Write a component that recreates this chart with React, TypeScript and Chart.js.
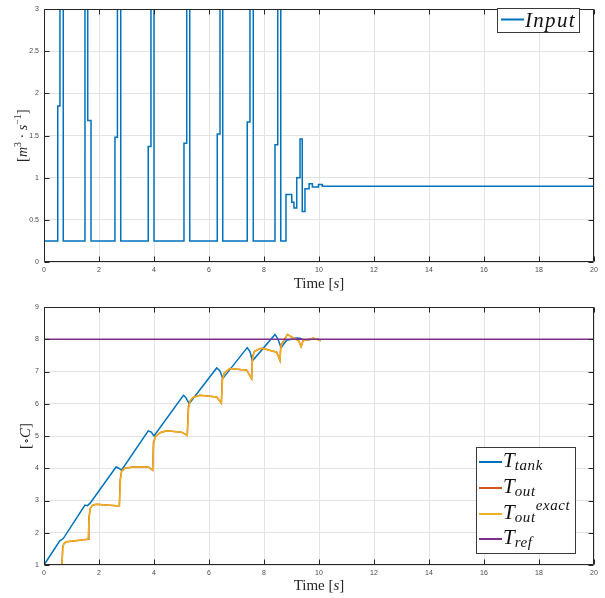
import React, { useEffect, useRef } from 'react';
import { Chart, registerables } from 'chart.js';

Chart.register(...registerables);

// ---------- data ----------
const xTicks = [0, 2, 4, 6, 8, 10, 12, 14, 16, 18, 20];
const inputYTicks = [0, 0.5, 1, 1.5, 2, 2.5, 3];
const tempYTicks = [1, 2, 3, 4, 5, 6, 7, 8, 9];

const inputTimes = [0, 0.50, 0.58, 0.70, 1.49, 1.59, 1.71, 2.58, 2.67, 2.79, 3.79, 3.89, 4.00, 5.09, 5.19, 5.30, 6.30, 6.40, 6.50, 7.39, 7.49, 7.61, 8.40, 8.50, 8.61, 8.80, 9.01, 9.09, 9.19, 9.31, 9.39, 9.49, 9.64, 9.76, 9.98, 10.12, 20];
const inputValues = [0.25, 1.85, 3, 0.25, 3, 1.68, 0.25, 1.48, 3, 0.25, 1.37, 3, 0.25, 1.41, 3, 0.25, 1.52, 3, 0.25, 1.66, 3, 0.25, 1.39, 3, 0.25, 0.80, 0.71, 0.64, 1.00, 1.46, 0.60, 0.87, 0.93, 0.89, 0.92, 0.90, 0.90];

const tankTimes = [0, 0.58, 0.70, 1.49, 1.58, 1.67, 2.62, 2.72, 2.82, 3.79, 3.90, 4.00, 5.07, 5.15, 5.28, 6.28, 6.40, 6.50, 7.39, 7.49, 7.58, 8.40, 8.50, 8.62, 8.82, 9.00, 9.16, 9.30, 9.45, 9.70, 10.0];
const tankValues = [1.00, 1.76, 1.82, 2.86, 2.84, 2.91, 4.04, 4.00, 3.94, 5.16, 5.12, 5.00, 6.26, 6.20, 6.00, 7.11, 7.02, 6.78, 7.74, 7.62, 7.33, 8.15, 8.02, 7.74, 7.97, 8.00, 8.04, 8.03, 7.97, 8.00, 8.00];

const outTimes = [0, 0.65, 0.68, 0.72, 0.82, 1.31, 1.60, 1.63, 1.68, 1.76, 1.90, 2.62, 2.74, 2.77, 2.82, 2.94, 3.25, 3.79, 3.95, 3.98, 4.05, 4.22, 4.46, 5.00, 5.21, 5.25, 5.32, 5.43, 5.67, 6.28, 6.45, 6.48, 6.55, 6.76, 7.37, 7.55, 7.58, 7.65, 7.85, 7.97, 8.46, 8.58, 8.61, 8.70, 8.85, 9.07, 9.25, 9.35, 9.43, 9.67, 9.79, 9.97, 10.06];
const outValues = [1.00, 1.00, 1.55, 1.66, 1.72, 1.77, 1.80, 2.45, 2.75, 2.85, 2.88, 2.84, 2.84, 3.65, 3.90, 4.00, 4.04, 4.04, 3.94, 4.80, 4.98, 5.10, 5.16, 5.12, 5.02, 5.90, 6.10, 6.20, 6.26, 6.21, 6.02, 6.75, 6.95, 7.09, 7.04, 6.78, 7.45, 7.62, 7.71, 7.71, 7.60, 7.34, 7.82, 7.93, 8.15, 8.04, 7.97, 7.77, 7.97, 7.99, 8.04, 7.99, 7.95];

const exactTimes = [0, 0.65, 0.69, 0.72, 0.82, 1.31, 1.60, 1.64, 1.68, 1.76, 1.90, 2.62, 2.74, 2.78, 2.82, 2.94, 3.25, 3.79, 3.95, 3.99, 4.05, 4.22, 4.46, 5.00, 5.21, 5.26, 5.32, 5.43, 5.67, 6.28, 6.45, 6.49, 6.55, 6.76, 7.37, 7.55, 7.59, 7.65, 7.85, 7.97, 8.46, 8.58, 8.62, 8.70, 8.85, 9.07, 9.25, 9.35, 9.43, 9.67, 9.79, 9.97, 10.06];
const exactValues = [1.00, 1.00, 1.52, 1.66, 1.72, 1.77, 1.80, 2.42, 2.75, 2.85, 2.88, 2.84, 2.84, 3.62, 3.90, 4.00, 4.04, 4.04, 3.94, 4.76, 4.98, 5.10, 5.16, 5.12, 5.02, 5.86, 6.10, 6.20, 6.26, 6.21, 6.02, 6.72, 6.95, 7.09, 7.04, 6.78, 7.42, 7.62, 7.71, 7.71, 7.60, 7.34, 7.80, 7.93, 8.15, 8.04, 7.97, 7.77, 7.97, 7.99, 8.04, 7.99, 7.95];

const refTimes = [0, 20];
const refValues = [8, 8];

// ---------- styles ----------
const BLUE = '#0072BD';
const RED = '#D95319';
const YELLOW = '#EDB120';
const PURPLE = '#7E2F8E';
const AXIS = '#262626';
const GRID = '#e3e3e3';
const TICK_TXT = '#4a4a4a';
const SERIF = '"Liberation Serif", "Times New Roman", serif';
const SANS = '"Liberation Sans", Arial, Helvetica, sans-serif';

type Seg = { t: string; it?: boolean; size: number; dy?: number; ls?: number };

function setLS(ctx: any, px: number) {
  if ('letterSpacing' in ctx) ctx.letterSpacing = px + 'px';
}
function segFont(s: Seg) {
  return `${s.it ? 'italic ' : ''}${s.size}px ${SERIF}`;
}
function drawSegs(ctx: CanvasRenderingContext2D, segs: Seg[], x: number, y: number, align: 'left' | 'center') {
  ctx.textAlign = 'left';
  ctx.textBaseline = 'alphabetic';
  let total = 0;
  const widths = segs.map((s) => {
    ctx.font = segFont(s);
    setLS(ctx, s.ls || 0);
    const w = ctx.measureText(s.t).width;
    total += w;
    return w;
  });
  let cx = align === 'center' ? x - total / 2 : x;
  segs.forEach((s, i) => {
    ctx.font = segFont(s);
    setLS(ctx, s.ls || 0);
    ctx.fillText(s.t, cx, y + (s.dy || 0));
    cx += widths[i];
  });
  setLS(ctx, 0);
}

function toPoints(ts: number[], vs: number[]) {
  return ts.map((t, i) => ({ x: t, y: vs[i] }));
}

type LegendEntry = { color: string; segs: Seg[] };
type LegendSpec = { x: number; y: number; w: number; h: number; lineX0: number; lineX1: number; textX: number; rows: number[]; entries: LegendEntry[]; baseOff: number };

function decorPlugin(o: { yTicks: number[]; xTitleBase: number; yTitleX: number; yTitle: Seg[]; legend: LegendSpec }) {
  return {
    id: 'decor',
    afterDatasetsDraw(chart: any) {
      const { ctx, chartArea: a, scales } = chart;
      ctx.save();
      const L = Math.round(a.left) + 0.5;
      const R = Math.round(a.right) - 0.5;
      const T = Math.round(a.top) + 0.5;
      const B = Math.round(a.bottom) - 0.5;
      ctx.strokeStyle = AXIS;
      ctx.lineWidth = 1;
      ctx.beginPath();
      ctx.rect(L, T, R - L, B - T);
      for (const v of xTicks) {
        const px = Math.round(scales.x.getPixelForValue(v)) + 0.5;
        ctx.moveTo(px, B);
        ctx.lineTo(px, B - 5);
        ctx.moveTo(px, T);
        ctx.lineTo(px, T + 5);
      }
      for (const v of o.yTicks) {
        const py = Math.round(scales.y.getPixelForValue(v)) + 0.5;
        ctx.moveTo(L, py);
        ctx.lineTo(L + 5, py);
        ctx.moveTo(R, py);
        ctx.lineTo(R - 5, py);
      }
      ctx.stroke();

      // x title
      ctx.fillStyle = AXIS;
      drawSegs(ctx, [
        { t: 'Time [', size: 15 },
        { t: 's', it: true, size: 15 },
        { t: ']', size: 15 },
      ], (a.left + a.right) / 2, o.xTitleBase, 'center');

      // y title (rotated)
      ctx.save();
      ctx.translate(o.yTitleX, (a.top + a.bottom) / 2);
      ctx.rotate(-Math.PI / 2);
      drawSegs(ctx, o.yTitle, 0, 0, 'center');
      ctx.restore();

      // legend
      const lg = o.legend;
      ctx.fillStyle = '#ffffff';
      ctx.fillRect(lg.x, lg.y, lg.w, lg.h);
      ctx.strokeStyle = '#3a3a3a';
      ctx.lineWidth = 1;
      ctx.strokeRect(lg.x + 0.5, lg.y + 0.5, lg.w - 1, lg.h - 1);
      lg.entries.forEach((e, i) => {
        const ry = lg.rows[i];
        ctx.strokeStyle = e.color;
        ctx.lineWidth = 2;
        ctx.beginPath();
        ctx.moveTo(lg.lineX0, ry);
        ctx.lineTo(lg.lineX1, ry);
        ctx.stroke();
        ctx.fillStyle = '#111111';
        drawSegs(ctx, e.segs, lg.textX, ry + lg.baseOff, 'left');
      });
      ctx.restore();
    },
  };
}

const plainLabel = (v: any) => String(Number(v));

function xScale(height: number, pad: number) {
  return {
    type: 'linear' as const,
    min: 0,
    max: 20,
    afterBuildTicks: (s: any) => {
      s.ticks = xTicks.map((v) => ({ value: v }));
    },
    afterFit: (s: any) => {
      s.height = height;
    },
    ticks: {
      font: { size: 7, family: SANS },
      color: TICK_TXT,
      padding: pad,
      maxRotation: 0,
      autoSkip: false,
      callback: plainLabel,
    },
    grid: { color: GRID, lineWidth: 1, drawTicks: false },
    border: { display: false },
  };
}

function yScale(min: number, max: number, ticks: number[]) {
  return {
    type: 'linear' as const,
    min,
    max,
    afterBuildTicks: (s: any) => {
      s.ticks = ticks.map((v) => ({ value: v }));
    },
    afterFit: (s: any) => {
      s.width = 44;
    },
    ticks: {
      font: { size: 7, family: SANS },
      color: TICK_TXT,
      padding: 5,
      autoSkip: false,
      callback: plainLabel,
    },
    grid: { color: GRID, lineWidth: 1, drawTicks: false },
    border: { display: false },
  };
}

export default function App() {
  const topRef = useRef<HTMLCanvasElement>(null);
  const botRef = useRef<HTMLCanvasElement>(null);

  useEffect(() => {
    const topChart = new Chart(topRef.current as HTMLCanvasElement, {
      type: 'line',
      data: {
        datasets: [
          {
            label: 'Input',
            data: toPoints(inputTimes, inputValues),
            stepped: 'before',
            borderColor: BLUE,
            backgroundColor: BLUE,
            borderWidth: 1.5,
            pointRadius: 0,
            fill: false,
          },
        ],
      },
      options: {
        responsive: false,
        animation: false,
        devicePixelRatio: 1,
        layout: { padding: { top: 4, right: 11, left: 0, bottom: 0 } },
        scales: { x: xScale(38, 4), y: yScale(0, 3, inputYTicks) } as any,
        plugins: { legend: { display: false }, tooltip: { enabled: false } },
        elements: { line: { tension: 0 } },
      },
      plugins: [
        decorPlugin({
          yTicks: inputYTicks,
          xTitleBase: 288,
          yTitleX: 27,
          yTitle: [
            { t: '[', size: 15 },
            { t: 'm', it: true, size: 14 },
            { t: '3', size: 10, dy: -6 },
            { t: ' · ', size: 14 },
            { t: 's', it: true, size: 14 },
            { t: '−1', size: 10, dy: -6 },
            { t: ']', size: 15 },
          ],
          legend: {
            x: 497, y: 8, w: 83, h: 25,
            lineX0: 501, lineX1: 524, textX: 525,
            rows: [19.5], baseOff: 7,
            entries: [{ color: BLUE, segs: [{ t: 'Input', it: true, size: 21, ls: 1.3 }] }],
          },
        }) as any,
      ],
    });

    const botChart = new Chart(botRef.current as HTMLCanvasElement, {
      type: 'line',
      data: {
        datasets: [
          { label: 'T_tank', data: toPoints(tankTimes, tankValues), borderColor: BLUE, backgroundColor: BLUE, borderWidth: 1.5, pointRadius: 0, fill: false, order: 4 },
          { label: 'T_out', data: toPoints(outTimes, outValues), borderColor: RED, backgroundColor: RED, borderWidth: 1.5, pointRadius: 0, fill: false, order: 3 },
          { label: 'T_out^exact', data: toPoints(exactTimes, exactValues), borderColor: YELLOW, backgroundColor: YELLOW, borderWidth: 1.5, pointRadius: 0, fill: false, order: 2 },
          { label: 'T_ref', data: toPoints(refTimes, refValues), borderColor: PURPLE, backgroundColor: PURPLE, borderWidth: 1.5, pointRadius: 0, fill: false, order: 1 },
        ],
      },
      options: {
        responsive: false,
        animation: false,
        devicePixelRatio: 1,
        layout: { padding: { top: 17, right: 11, left: 0, bottom: 0 } },
        scales: { x: xScale(33, 4), y: yScale(1, 9, tempYTicks) } as any,
        plugins: { legend: { display: false }, tooltip: { enabled: false } },
        elements: { line: { tension: 0 } },
      },
      plugins: [
        decorPlugin({
          yTicks: tempYTicks,
          xTitleBase: 300,
          yTitleX: 30,
          yTitle: [
            { t: '[', size: 15 },
            { t: '∘', size: 10, dy: -1 },
            { t: 'C', it: true, size: 15 },
            { t: ']', size: 15 },
          ],
          legend: {
            x: 476, y: 157, w: 100, h: 107,
            lineX0: 479, lineX1: 502, textX: 503,
            rows: [172, 198, 224, 249], baseOff: 5,
            entries: [
              { color: BLUE, segs: [{ t: 'T', it: true, size: 21 }, { t: 'tank', it: true, size: 15, dy: 3, ls: 0.6 }] },
              { color: RED, segs: [{ t: 'T', it: true, size: 21 }, { t: 'out', it: true, size: 15, dy: 3, ls: 0.6 }] },
              { color: YELLOW, segs: [{ t: 'T', it: true, size: 21 }, { t: 'out', it: true, size: 15, dy: 3, ls: 0.6 }, { t: 'exact', it: true, size: 15, dy: -9, ls: 0.6 }] },
              { color: PURPLE, segs: [{ t: 'T', it: true, size: 21 }, { t: 'ref', it: true, size: 15, dy: 3, ls: 0.6 }] },
            ],
          },
        }) as any,
      ],
    });

    return () => {
      topChart.destroy();
      botChart.destroy();
    };
  }, []);

  return (
    <div style={{ position: 'absolute', left: 0, top: 0, width: 605, height: 598, background: '#ffffff' }}>
      <canvas ref={topRef} width={605} height={300} style={{ position: 'absolute', left: 0, top: 0, display: 'block' }} />
      <canvas ref={botRef} width={605} height={308} style={{ position: 'absolute', left: 0, top: 290, display: 'block' }} />
    </div>
  );
}
